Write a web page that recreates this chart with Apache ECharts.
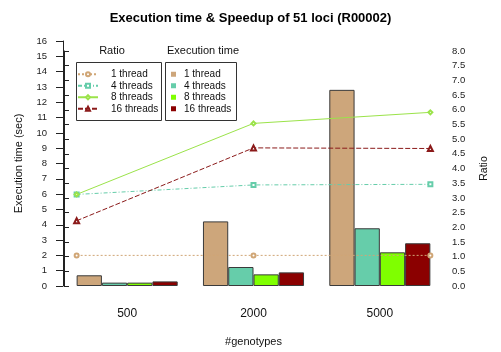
<!DOCTYPE html>
<html><head><meta charset="utf-8">
<script src="https://cdn.jsdelivr.net/npm/echarts@6/dist/echarts.min.js"></script>
<style>html,body{margin:0;padding:0;background:#fff}#c{width:501px;height:352px}</style>
</head><body><div id="c"></div>
<script>
const categories = ['500', '2000', '5000'];
const threadNames = ['1 thread', '4 threads', '8 threads', '16 threads'];
const time1 = [0.70, 4.22, 12.81];
const time4 = [0.22, 1.24, 3.77];
const time8 = [0.22, 0.76, 2.20];
const time16 = [0.30, 0.89, 2.79];
const ratio1 = [1.0, 1.0, 1.0];
const ratio4 = [2.99, 3.30, 3.32];
const ratio8 = [2.99, 5.31, 5.67];
const ratio16 = [2.13, 4.51, 4.49];
const ratioX = [1, 8, 15];
const timeTicks = [0, 16, 1];
const ratioTicks = [0, 8, 0.5];

const barColors = ['#CDA67B', '#66CDAA', '#7FFF00', '#8B0000'];
const lineColors = ['#D0A676', '#66CDAA', '#9BE34A', '#8B1A1A'];
const font = 'Liberation Sans, Arial, sans-serif';
const chart = echarts.init(document.getElementById('c'), null, {renderer: 'canvas'});
const times = [time1, time4, time8, time16];
const ratios = [ratio1, ratio4, ratio8, ratio16];
const lineTypes = [[2, 2], [4, 2, 1, 2], 'solid', [5, 2]];
const symbols = ['emptyCircle', 'emptyRect', 'emptyDiamond', 'emptyTriangle'];

const series = [];
times.forEach((d, i) => series.push({
  name: threadNames[i] + ' ', type: 'bar', xAxisIndex: 0, yAxisIndex: 0,
  data: d, barGap: '0%', barCategoryGap: '20%',
  itemStyle: {color: barColors[i], borderColor: '#3a3a3a', borderWidth: 1},
  z: 2
}));
ratios.forEach((d, i) => series.push({
  name: threadNames[i], type: 'line', xAxisIndex: 1, yAxisIndex: 1,
  data: d.map((v, j) => [ratioX[j], v]),
  symbol: symbols[i], symbolSize: i === 3 ? 5 : 4,
  lineStyle: {color: lineColors[i], width: 1, type: lineTypes[i]},
  itemStyle: {color: lineColors[i], borderColor: lineColors[i], borderWidth: 1},
  z: 5
}));

chart.setOption({
  animation: false,
  backgroundColor: '#fff',
  textStyle: {fontFamily: font},
  title: {text: 'Execution time & Speedup of 51 loci (R00002)', left: 'center', top: 7,
    textStyle: {fontSize: 13, fontWeight: 'bold', color: '#000', fontFamily: font}},
  grid: [
    {left: 64, right: 58, top: 41, bottom: 66},
    {left: 64, right: 58, top: 51, bottom: 66}
  ],
  xAxis: [
    {type: 'category', gridIndex: 0, data: categories,
     axisLine: {show: false}, axisTick: {show: false},
     axisLabel: {margin: 22, fontSize: 12, color: '#111'},
     name: '#genotypes', nameLocation: 'middle', nameGap: 50,
     nameTextStyle: {fontSize: 11, color: '#111'}},
    {type: 'value', gridIndex: 0, min: 0.5, max: 15.5, show: false},
    {type: 'value', gridIndex: 1, show: false}
  ],
  yAxis: [
    {type: 'value', gridIndex: 0, min: timeTicks[0], max: timeTicks[1], interval: timeTicks[2],
     offset: 1,
     axisLine: {show: true, lineStyle: {color: '#222'}},
     axisTick: {show: true, length: 7, lineStyle: {color: '#222'}},
     splitLine: {show: false},
     axisLabel: {fontSize: 9.5, color: '#222', margin: 16},
     name: 'Execution time (sec)', nameLocation: 'middle', nameGap: 39, nameRotate: 90,
     nameTextStyle: {fontSize: 11, color: '#111'}},
    {type: 'value', gridIndex: 0, min: ratioTicks[0], max: ratioTicks[1], show: false},
    {type: 'value', gridIndex: 1, position: 'right', offset: 2,
     min: ratioTicks[0], max: ratioTicks[1], interval: ratioTicks[2],
     axisLine: {show: true, lineStyle: {color: '#222'}},
     axisTick: {show: true, length: 5, lineStyle: {color: '#222'}},
     splitLine: {show: false},
     axisLabel: {fontSize: 9.5, color: '#222', margin: 7, formatter: v => v.toFixed(1)},
     name: 'Ratio', nameLocation: 'middle', nameGap: 34, nameRotate: 90,
     nameTextStyle: {fontSize: 10.5, color: '#111'}}
  ],
  legend: [
    {data: threadNames, orient: 'vertical', left: 77, top: 68.5,
     itemWidth: 20, itemHeight: 5, itemGap: 0, padding: 0,
     textStyle: {fontSize: 10, color: '#111', lineHeight: 11.5, padding: [0, 0, 0, 8]}},
    {data: threadNames.map(n => n + ' '), orient: 'vertical', left: 171, top: 68.5,
     icon: 'rect', itemWidth: 5, itemHeight: 5, itemGap: 0, padding: 0,
     itemStyle: {borderWidth: 0},
     textStyle: {fontSize: 10, color: '#111', lineHeight: 11.5, padding: [0, 0, 0, 3]}}
  ],
  graphic: [
    {type: 'rect', shape: {x: 76.5, y: 62.5, width: 85, height: 58}, style: {fill: null, stroke: '#333', lineWidth: 1}, z: 10},
    {type: 'rect', shape: {x: 165.5, y: 62.5, width: 71, height: 58}, style: {fill: null, stroke: '#333', lineWidth: 1}, z: 10},
    {type: 'text', x: 112, y: 51, style: {text: 'Ratio', fontSize: 11, fill: '#111', fontFamily: font, align: 'center', verticalAlign: 'middle'}},
    {type: 'text', x: 203, y: 51, style: {text: 'Execution time', fontSize: 11, fill: '#111', fontFamily: font, align: 'center', verticalAlign: 'middle'}}
  ],
  series: series
});
</script></body></html>
